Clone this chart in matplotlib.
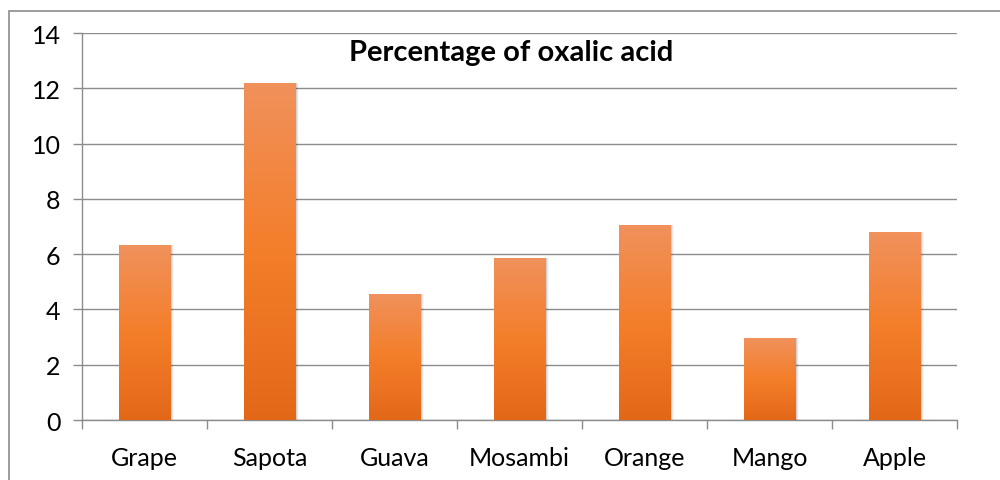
import numpy as np
import matplotlib
matplotlib.use("Agg")
import matplotlib.pyplot as plt
from matplotlib.patches import Rectangle
from matplotlib.colors import LinearSegmentedColormap

# Oxalic acid content per fruit
fruits = ["Grape", "Sapota", "Guava", "Mosambi", "Orange", "Mango", "Apple"]
oxalic_pct = [6.33, 12.2, 4.56, 5.86, 7.05, 2.97, 6.8]

plt.rcParams["font.family"] = ["Lato", "DejaVu Sans"]

fig = plt.figure(figsize=(10, 4.81), dpi=100)
ax = fig.add_axes([0.082, 0.1247, 0.875, 0.8046])

x = np.arange(len(fruits))
bar_w = 0.41

# soft shadow behind the bars
for dx, a in [(0.012, 0.10), (0.022, 0.06), (0.032, 0.03)]:
    ax.bar(x + dx, oxalic_pct, width=bar_w, color="black", alpha=a,
           zorder=2, linewidth=0)

bars = ax.bar(x, oxalic_pct, width=bar_w, color="#F47F2C", zorder=3,
              linewidth=0)

# vertical orange gradient, lighter at the top
grad_cmap = LinearSegmentedColormap.from_list(
    "orange_grad", ["#E26818", "#F47E2A", "#F0915C"])
grad = np.linspace(0, 1, 256).reshape(-1, 1)
for b in bars:
    x0, y0 = b.get_x(), b.get_y()
    w, h = b.get_width(), b.get_height()
    im = ax.imshow(grad, cmap=grad_cmap, aspect="auto", origin="lower",
                   extent=[x0, x0 + w, y0, y0 + h], zorder=4)
    im.set_clip_path(b)

ax.set_xlim(-0.5, len(fruits) - 0.5)
ax.set_ylim(0, 14)
ax.set_yticks(np.arange(0, 15, 2))
ax.yaxis.grid(True, color="#8C8C8C", linewidth=1.0, zorder=0)
ax.set_axisbelow(True)

# category labels centred, tick marks on category boundaries
ax.set_xticks(x)
ax.set_xticklabels(fruits)
ax.set_xticks(np.arange(-0.5, len(fruits)), minor=True)
ax.tick_params(axis="x", which="major", length=0, pad=19, labelsize=18)
ax.tick_params(axis="x", which="minor", length=6.5, width=1, color="#8C8C8C")
ax.tick_params(axis="y", length=6.5, width=1, color="#8C8C8C", pad=9,
               labelsize=18)

for side in ["top", "right"]:
    ax.spines[side].set_visible(False)
for side in ["left", "bottom"]:
    ax.spines[side].set_color("#8C8C8C")
    ax.spines[side].set_linewidth(1.0)

fig.text(0.511, 1 - 53 / 481, "Percentage of oxalic acid", ha="center",
         va="center", fontsize=21, fontweight="bold")

# chart area border
fig.patches.append(Rectangle((0.009, -0.05), 1.05, 1 - 12 / 481 + 0.05,
                             transform=fig.transFigure, fill=False,
                             edgecolor="#8C8C8C", linewidth=1.2))

fig.savefig("out.png", dpi=100)
